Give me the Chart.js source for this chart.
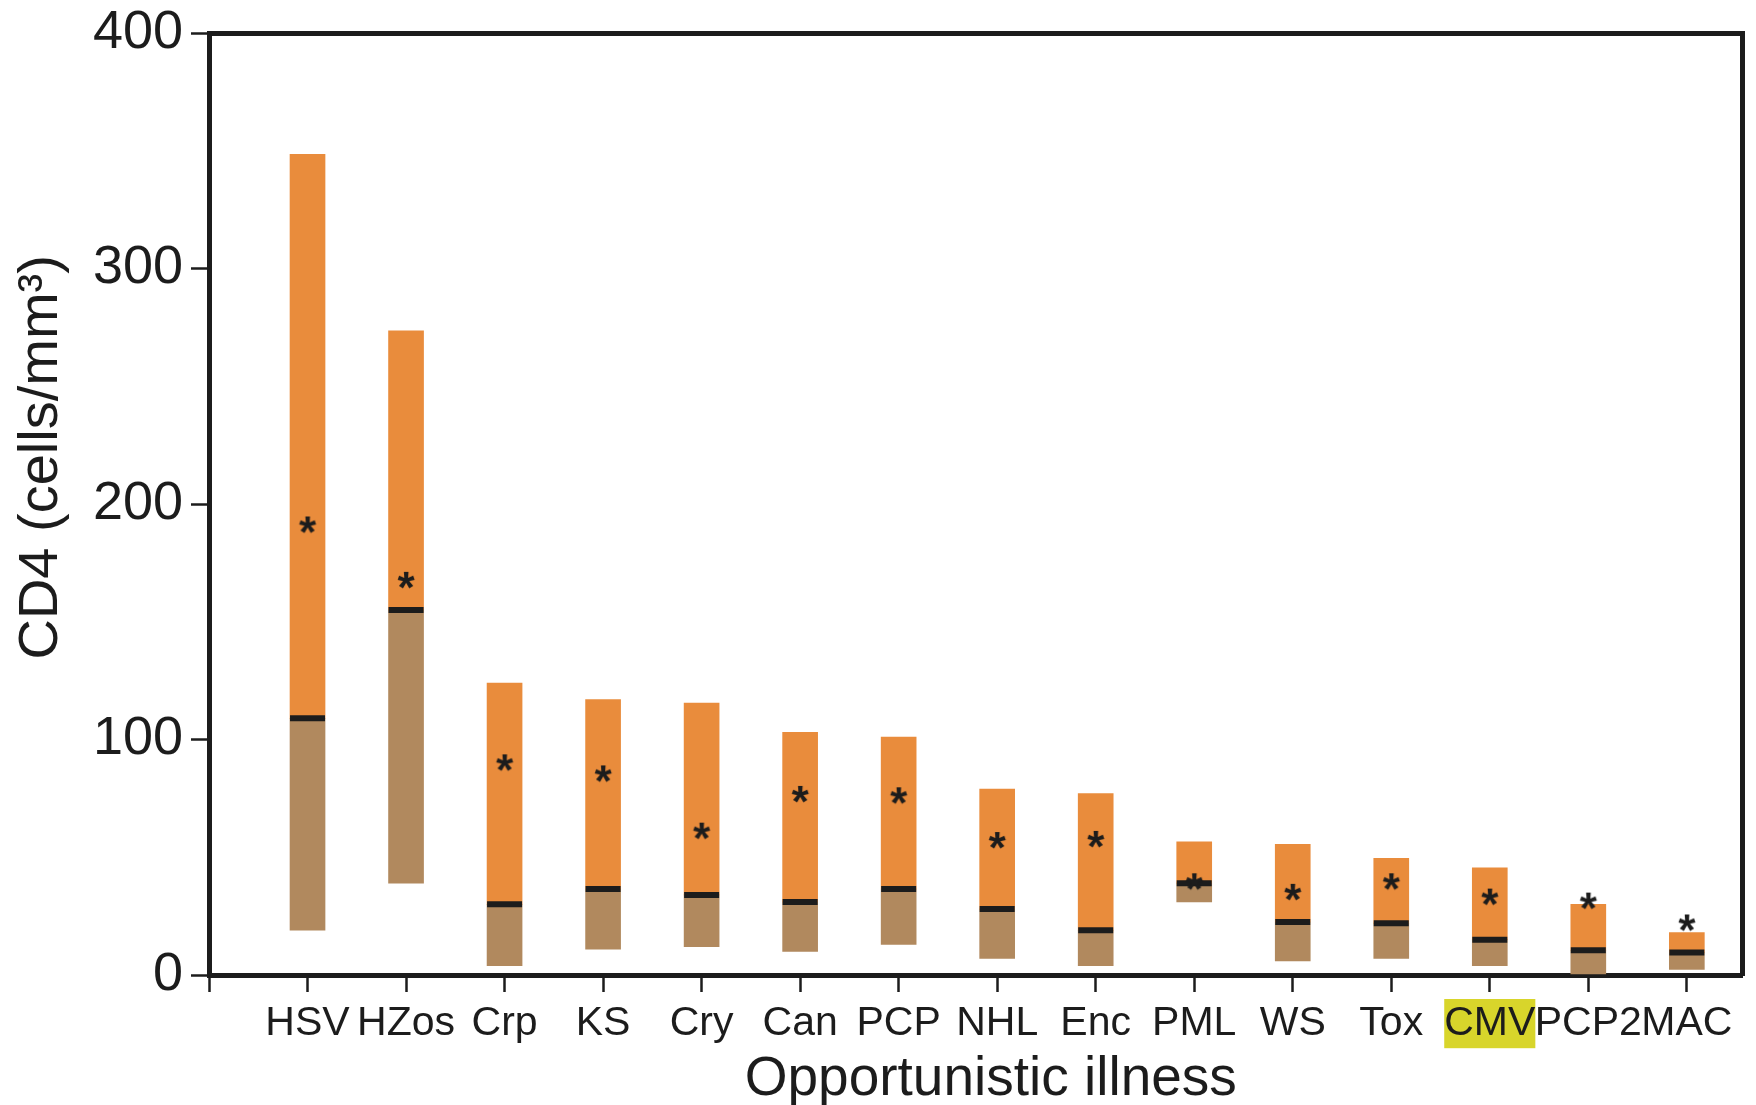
<!DOCTYPE html>
<html>
<head>
<meta charset="utf-8">
<script src="https://cdn.jsdelivr.net/npm/chart.js@4"></script>
<style>
  html, body { margin: 0; padding: 0; background: #fff; }
  canvas { display: block; }
</style>
</head>
<body>
<canvas id="chart" width="1756" height="1105"></canvas>
<script>
// CD4 count ranges per opportunistic illness (cells/mm3)
const categories = ['HSV','HZos','Crp','KS','Cry','Can','PCP','NHL','Enc','PML','WS','Tox','CMV','PCP2','MAC'];
const lowerQ  = [19, 39, 4, 11, 12, 10, 13, 7, 4, 31, 6, 7, 4, 0.5, 2.4];
const medians = [109, 155, 30, 36.5, 34, 31, 36.5, 28, 19, 39, 22.5, 22, 15, 10.5, 9.6];
const upperQ  = [348.5, 273.5, 124, 117, 115.5, 103, 101, 79, 77, 56.5, 55.5, 49.5, 45.5, 30, 18];
const means   = [193, 169.5, 92, 87.3, 63, 78.6, 78, 59, 59.5, 41.5, 37, 41.5, 35, 33.3, 24];
const yTicks  = [0, 100, 200, 300, 400];
const highlighted = 'CMV';

const ORANGE = '#e98c3c';
const BROWN  = '#b1895e';
const INK    = '#1c1c1c';
const FONT   = "'Liberation Sans', Arial, Helvetica, sans-serif";

// asterisk used as the mean marker
const star = document.createElement('canvas');
star.width = 34; star.height = 34;
const sctx = star.getContext('2d');
sctx.fillStyle = INK;
sctx.font = `bold 44px ${FONT}`;
sctx.textAlign = 'center';
sctx.textBaseline = 'alphabetic';
sctx.fillText('*', 17, 17 + 44 * 0.61);

const pos = categories.map((c, i) => i + 1);
const X_MAX = 15.56;

// fixed box sizes so the plot frame lands where the original's does
const fixSize = (w, h) => s => {
  if (w !== null) s.width = w;
  if (h !== null) s.height = h;
  s.paddingLeft = s.paddingRight = s.paddingTop = s.paddingBottom = 0;
};

new Chart(document.getElementById('chart'), {
  type: 'bar',
  data: {
    datasets: [
      {
        label: 'Lower quartile to median',
        data: pos.map((x, i) => ({ x, y: [lowerQ[i], medians[i]] })),
        backgroundColor: BROWN, grouped: false, barThickness: 35, order: 3,
        xAxisID: 'x', yAxisID: 'y',
      },
      {
        label: 'Median to upper quartile',
        data: pos.map((x, i) => ({ x, y: [medians[i], upperQ[i]] })),
        backgroundColor: ORANGE, grouped: false, barThickness: 35, order: 2,
        xAxisID: 'x', yAxisID: 'y',
      },
      {
        type: 'line', label: 'Median',
        data: pos.map((x, i) => ({ x, y: medians[i] })),
        showLine: false, pointStyle: 'line', pointRadius: 17.5,
        pointBorderWidth: 6, pointBorderColor: INK, order: 1,
        xAxisID: 'x', yAxisID: 'y',
      },
      {
        type: 'line', label: 'Mean',
        data: pos.map((x, i) => ({ x, y: means[i] })),
        showLine: false, pointStyle: star, pointRadius: 10, order: 0,
        xAxisID: 'x', yAxisID: 'y',
      },
    ],
  },
  options: {
    responsive: false, animation: false,
    layout: { padding: 0, autoPadding: false },
    plugins: { legend: { display: false }, tooltip: { enabled: false } },
    scales: {
      x: {
        type: 'linear', position: 'bottom', min: 0, max: X_MAX, offset: false,
        afterBuildTicks: s => { s.ticks = [0, ...pos].map(v => ({ value: v })); },
        afterFit: fixSize(null, 130),
        ticks: {
          autoSkip: false, maxRotation: 0, padding: 7,
          color: INK, font: { family: FONT, size: 41 },
          callback: v => v === 0 ? '' : categories[v - 1],
          showLabelBackdrop: c => categories[c.index - 1] === highlighted,
          backdropColor: '#d8d52b', backdropPadding: 0,
        },
        grid: { offset: false, drawOnChartArea: false, tickLength: 17, tickWidth: 2.5, color: INK },
        border: { width: 5, color: INK },
        title: {
          display: true, text: '\u00a0\u00a0Opportunistic illness',
          color: INK, font: { family: FONT, size: 55, lineHeight: 0.9 },
          padding: { top: 0, bottom: 0 },
        },
      },
      y: {
        min: 0, max: 400,
        afterBuildTicks: s => { s.ticks = yTicks.map(v => ({ value: v })); },
        afterFit: fixSize(209, null),
        ticks: { padding: 8, color: INK, font: { family: FONT, size: 54 } },
        grid: { drawOnChartArea: false, tickLength: 18, tickWidth: 2.5, color: INK },
        border: { width: 5, color: INK },
        title: {
          display: true,
          text: '\u00a0\u00a0\u00a0\u00a0\u00a0\u00a0CD4 (cells/mm\u00b3)',
          color: INK, font: { family: FONT, size: 56, lineHeight: 1.2 },
          padding: { top: 8, bottom: 0 },
        },
      },
      xTop: {
        type: 'linear', position: 'top', min: 0, max: X_MAX, offset: false,
        afterFit: fixSize(null, 33),
        ticks: { display: false }, grid: { display: false, offset: false },
        border: { width: 5, color: INK },
      },
      yRight: {
        type: 'linear', position: 'right', min: 0, max: 400,
        afterFit: fixSize(14, null),
        ticks: { display: false }, grid: { display: false },
        border: { width: 5, color: INK },
      },
    },
  },
});
</script>
</body>
</html>
